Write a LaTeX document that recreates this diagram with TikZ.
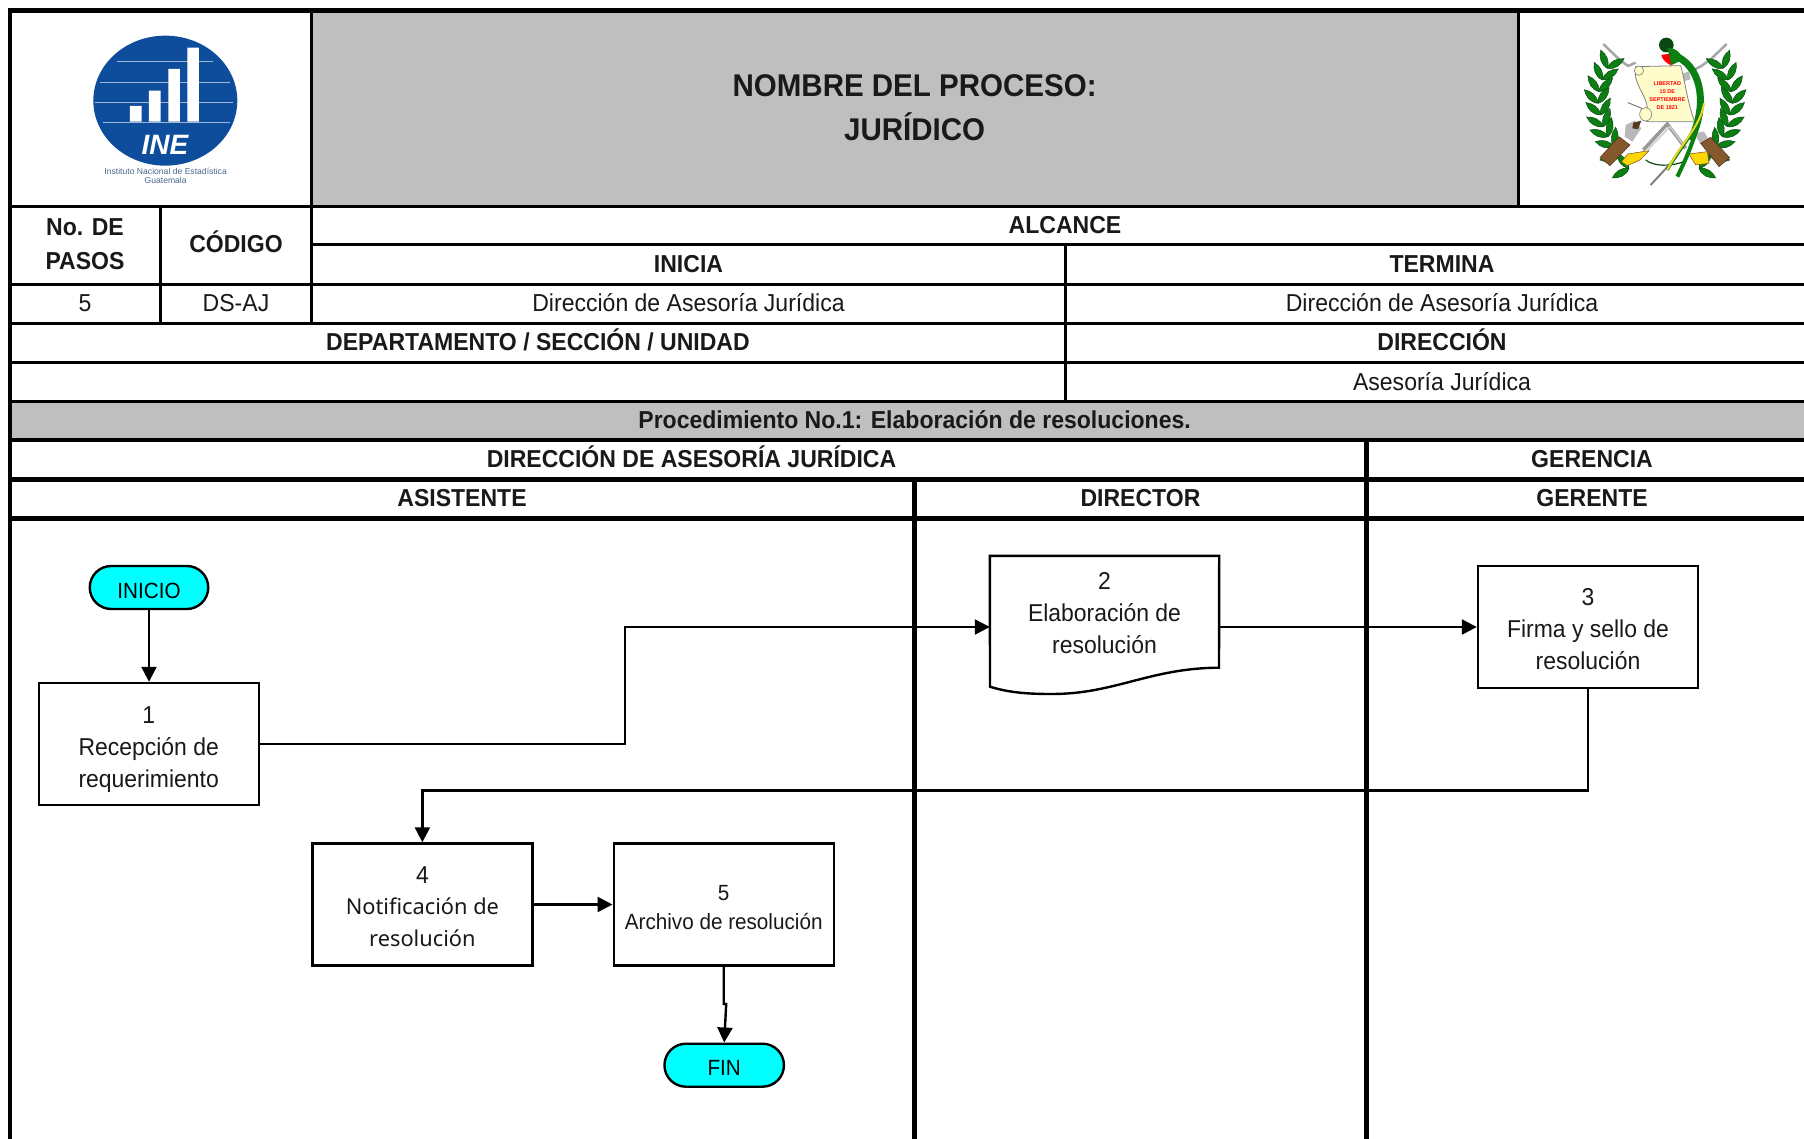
\documentclass[tikz,border=0pt]{standalone}
\usepackage{fontspec}
\usetikzlibrary{arrows.meta,shapes.misc,calc}
\setmainfont[FakeStretch=0.94]{Liberation Sans}
\newfontfamily\notofont{Noto Sans}
\newfontfamily\plainarial{Liberation Sans}
\newcommand\notoline[1]{{\notofont\fontsize{21.8}{32}\selectfont #1}}
\newcommand\termtext[1]{\raisebox{-3pt}[0.7em][0pt]{#1}}
\definecolor{hdrgray}{HTML}{BFBFBF}
\definecolor{inecyan}{HTML}{00FFFF}
\definecolor{ineblue}{HTML}{0E4C9C}
\definecolor{leafgreen}{HTML}{0B7F12}
\definecolor{leafdark}{HTML}{0A4A12}
\tikzset{
  x=1pt,y=-1pt,
  thinrule/.style={line width=3pt,black},
  thickrule/.style={line width=4.6pt,black},
  cellb/.style={font=\fontsize{24.5}{34.5}\selectfont\bfseries,align=center,inner sep=0pt,text=black!90},
  cellr/.style={font=\fontsize{24.5}{34.5}\selectfont,align=center,inner sep=0pt,text=black!90},
  titletext/.style={font=\fontsize{31.4}{44}\selectfont\bfseries,align=center,inner sep=0pt,text=black!90},
  procbox/.style={draw=black,line width=2.4pt,fill=white,rectangle,inner sep=0pt,
     minimum width=220pt,minimum height=122pt},
  boxtext/.style={inner sep=0pt,align=center,font=\fontsize{24.4}{32}\selectfont,text=black!90},
  termbox/.style={draw=black,line width=2.4pt,fill=inecyan,rounded rectangle,inner sep=0pt,
     font=\fontsize{22}{30}\selectfont},
  flow/.style={line width=2.4pt,black,-{Triangle[length=15pt,width=15pt]}},
  pics/leaf/.style={code={\fill[leafgreen,draw=leafdark,line width=.5pt] (0,0) .. controls (18,-15) and (40,-12) .. (58,0) .. controls (40,12) and (18,15) .. (0,0);}},
}
\begin{document}
\begin{tikzpicture}
\useasboundingbox[fill=white] (0,0) rectangle (1804,1139);

% grey fills
\fill[hdrgray] (311.7,10) rectangle (1518,206);
\fill[hdrgray] (10,401.5) rectangle (1804,440);

% rules
\draw[thinrule] (10,206.5) -- (1804,206.5);
\draw[thinrule] (311.7,245) -- (1804,245);
\draw[thinrule] (10,284.5) -- (1804,284.5);
\draw[thinrule] (10,323.5) -- (1804,323.5);
\draw[thinrule] (10,362.5) -- (1804,362.5);
\draw[thinrule] (10,401.5) -- (1804,401.5);
\draw[thickrule] (10,440) -- (1804,440);
\draw[thickrule] (10,479.5) -- (1804,479.5);
\draw[thickrule] (10,518.5) -- (1804,518.5);
\draw[thinrule] (160.5,206.5) -- (160.5,323.5);
\draw[thinrule] (311.7,10) -- (311.7,323.5);
\draw[thinrule] (1518,10) -- (1518,206.5);
\draw[thinrule] (1065.5,245) -- (1065.5,401.5);
\draw[thickrule] (914.6,479.5) -- (914.6,1139);
\draw[thickrule] (1366.5,440) -- (1366.5,1139);
\draw[line width=4.6pt] (8,10.5) -- (1804,10.5);
\draw[line width=4.4pt] (10,8) -- (10,1139);

% table text
\node[titletext] (title) at (914.6,108) {NOMBRE DEL PROCESO:\\JURÍDICO};
\node[cellb] (pasos) at (85,244) {No. DE\\PASOS};
\node[cellb] (codigo) at (236,242) {CÓDIGO};
\node[cellb] (alcance) at (1065,225) {ALCANCE};
\node[cellb] (inicia) at (688.5,264) {INICIA};
\node[cellb] (termina) at (1442,264) {TERMINA};
\node[cellr] (npasos) at (85,303.5) {5};
\node[cellr] (dsaj) at (236,303) {DS-AJ};
\node[cellr] (dir1) at (688.5,302.5) {Dirección de Asesoría Jurídica};
\node[cellr] (dir2) at (1442,302.5) {Dirección de Asesoría Jurídica};
\node[cellb] (depto) at (538,339.5) {DEPARTAMENTO / SECCIÓN / UNIDAD};
\node[cellb] (direccion) at (1442,339.5) {DIRECCIÓN};
\node[cellr] (asesoria) at (1442,382) {Asesoría Jurídica};
\node[cellb] (proc) at (914.6,419.5) {Procedimiento No.1: Elaboración de resoluciones.};
\node[cellb] (daj) at (691.5,456.5) {DIRECCIÓN DE ASESORÍA JURÍDICA};
\node[cellb] (gerencia) at (1592,459.5) {GERENCIA};
\node[cellb] (asist) at (462,498.5) {ASISTENTE};
\node[cellb] (director) at (1140.5,498.5) {DIRECTOR};
\node[cellb] (gerente) at (1592,498.5) {GERENTE};

% flow nodes
\node[termbox,minimum width=118.5pt,minimum height=43pt] (inicio) at (149,587.5) {\termtext{INICIO}};
\node[procbox] (p1) at (148.7,744) {};
\node[boxtext] (p1t) at (148.7,750) {1\\Recepción de\\requerimiento};
\node[inner sep=0pt,minimum width=229pt,minimum height=142pt] (p2) at (1104.5,627) {};
\draw[line width=2.4pt,fill=white,line join=miter] (p2.north west) -- (p2.north east) -- (1219,667.7)
  .. controls (1150,668) and (1115,694) .. (1052,694) .. controls (1030,694) and (1010,693) .. (990,686.7) -- cycle;
\node[boxtext] (p2t) at (1104.5,613.5) {2\\Elaboración de\\resolución};
\node[procbox] (p3) at (1588,627) {};
\node[boxtext] (p3t) at (1588,629.5) {3\\Firma y sello de\\resolución};
\node[procbox] (p4) at (422.4,904.5) {};
\node[boxtext] (p4t) at (422.4,907) {4\\[-1pt]\notoline{Notificación de}\\\notoline{resolución}};
\node[procbox] (p5) at (723.7,904.5) {};
\node[boxtext,font=\fontsize{22}{29}\selectfont] (p5t) at (723.7,907.5) {5\\Archivo de resolución};
\node[termbox,minimum width=119.5pt,minimum height=43pt] (fin) at (724.2,1065.2) {\termtext{FIN}};

% connectors
\coordinate (b12) at (624.7,744);
\coordinate (b34a) at (p3.south |- 0,790.3);
\coordinate (jog) at (p5.south |- 0,1004);
\draw[flow] (inicio.south) -- (inicio.south |- p1.north);
\draw[flow] (p1.east) -- (b12) |- (p2.west);
\draw[flow] (p2.east) -- (p3.west);
\draw[flow] (p3.south) -- (b34a) -| (p4.north);
\draw[flow] (p4.east) -- (p5.west);
\draw[flow] (p5.south) -- (jog) -- ++(2.5,0) -- (fin.north);

% INE logo
\begin{scope}[x=0.3333pt,y=-0.3333pt]
  \begin{scope}
    \clip (496,302) ellipse [x radius=216,y radius=195];
    \fill[ineblue] (280,100) rectangle (720,500);
    \foreach \yy/\xa/\xb in {185/350/640,247/300/690,307/285/700,368/310/690}
      \draw[white!60!ineblue,line width=.8pt] (\xa,\yy) -- (\xb,\yy);
    \fill[white] (390,318) rectangle (425,365) (447,272) rectangle (482,365)
                 (505,207) rectangle (540,365) (562,143) rectangle (597,365);
  \end{scope}
  \node[inner sep=0pt,text=white,font=\plainarial\fontsize{28}{28}\selectfont\bfseries\itshape] (inetxt) at (495,435) {INE};
  \node[inner sep=0pt,align=center,text=ineblue!45!gray,font=\plainarial\fontsize{8.6}{9}\selectfont] (inesub) at (497,528) {Instituto Nacional de Estadística\\Guatemala};
\end{scope}

% coat of arms
\begin{scope}[shift={(1504,0)},x=0.3333pt,y=-0.3333pt]
  % grey guns
  \draw[gray!70,line width=2.5pt] (298,132) -- (345,178) -- (372,198) -- (395,188);
  \draw[gray!70,line width=2.5pt] (668,132) -- (620,178) -- (592,198) -- (560,215);
  \draw[gray!80,line width=3.5pt] (418,450) -- (490,372) -- (545,445);
  \draw[gray!40,line width=1.5pt] (430,450) -- (498,380) -- (535,430);
  \draw[gray,line width=1pt] (372,308) -- (425,330);
  \fill[gray!55] (365,375) -- (392,362) -- (412,385) -- (385,425) -- (362,410) -- cycle;
  \fill[gray!55] (570,400) -- (600,395) -- (612,415) -- (590,432) -- cycle;
  \fill[gray!55] (528,222) -- (555,215) -- (560,238) -- (535,245) -- cycle;
  \fill[black!55!brown] (388,368) -- (412,362) -- (402,388) -- (385,385) -- cycle;
  % wreath
  \foreach \px/\py/\tt in {375/505/170,345/470/150,330/440/125,312/410/120,298/380/110,290/345/100,282/310/95,285/275/85,295/240/75,310/205/70}{
    \pic[rotate=\tt+40] at (\px,\py) {leaf};
    \pic[rotate=\tt-40] at (\px,\py) {leaf};
  }
  \foreach \px/\py/\tt in {585/505/10,620/470/30,637/440/55,655/410/60,670/380/70,677/345/80,685/310/85,682/275/95,672/240/105,657/205/110}{
    \pic[rotate=\tt+40] at (\px,\py) {leaf};
    \pic[rotate=\tt-40] at (\px,\py) {leaf};
  }
  \draw[leafdark,line width=1.2pt] (425,480) .. controls (450,500) and (500,500) .. (540,485);
  % stocks
  \fill[brown!70!black,draw=brown!40!black,line width=.5pt] (288,473) -- (318,497) -- (378,435) -- (345,410) -- cycle;
  \fill[brown!70!black,draw=brown!40!black,line width=.5pt] (677,473) -- (645,500) -- (590,430) -- (620,412) -- cycle;
  % sabres
  \fill[yellow!75!orange,draw=brown!60!black,line width=.5pt] (352,485) -- (372,462) -- (435,452) -- (408,480) -- (370,497) -- cycle;
  \fill[yellow!75!orange,draw=brown!60!black,line width=.5pt] (555,462) -- (610,455) -- (615,490) -- (575,495) -- cycle;
  \draw[gray,line width=2pt] (440,555) -- (500,490);
  % scroll
  \fill[yellow!20,draw=gray,line width=.8pt] (395,200) -- (530,197)
     .. controls (545,250) and (548,300) .. (572,365) -- (432,365)
     .. controls (415,365) and (405,345) .. (412,330) -- (430,322)
     .. controls (425,280) and (385,250) .. (395,200) -- cycle;
  \draw[gray,fill=yellow!20,line width=.6pt] (405,212) circle [radius=14];
  \draw[gray,fill=yellow!20,line width=.6pt] (425,343) ellipse [x radius=18,y radius=20];
  \node[inner sep=0pt,align=center,text=red,font=\plainarial\fontsize{5.5}{8}\selectfont\bfseries] (scrolltxt) at (490,288) {LIBERTAD\\15 DE\\SEPTIEMBRE\\DE 1821};
  % quetzal
  \draw[leafgreen,line width=7pt] (505,165) .. controls (590,190) and (615,310) .. (560,420);
  \draw[leafgreen,line width=4pt] (520,165) .. controls (610,220) and (620,330) .. (520,530);
  \draw[leafgreen,line width=3pt] (590,330) .. controls (575,400) and (530,440) .. (490,510);
  \draw[yellow!70!brown,line width=2pt] (600,310) .. controls (590,380) and (530,430) .. (490,510);
  \fill[leafdark] (487,135) ellipse [x radius=22,y radius=22];
  \fill[red] (472,165) -- (505,160) -- (503,197) .. controls (488,190) and (475,180) .. (472,165) -- cycle;
  \fill[leafgreen] (490,145) .. controls (510,140) and (535,160) .. (535,180) -- (503,195) -- cycle;
\end{scope}
\end{tikzpicture}
\end{document}
